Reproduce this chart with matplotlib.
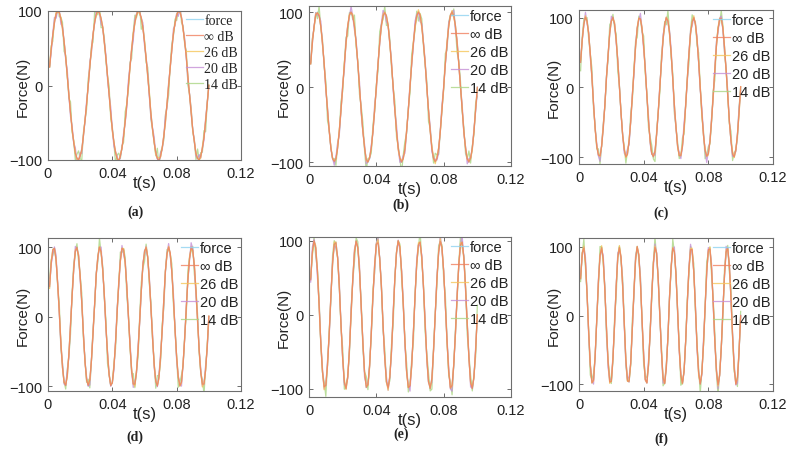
import numpy as np
import matplotlib
matplotlib.use("Agg")
import matplotlib.pyplot as plt

# ---------------- data ----------------
panel_labels = ["(a)", "(b)", "(c)", "(d)", "(e)", "(f)"]
frequencies = [40, 50, 60, 70, 80, 90]          # Hz, read from the periods
amplitude = 100                                   # N
sample_step = 0.001                               # s
n_samples = 100
series_names = ["force", "\u221e dB", "26 dB", "20 dB", "14 dB"]
ylims = [(-100, 100), (-105, 108), (-110, 111), (-107, 113), (-111, 105), (-110, 113)]
xticks = [0, 0.04, 0.08, 0.12]
xticklabels = ["0", "0.04", "0.08", "0.12"]
yticks = [-100, 0, 100]

# hand-estimated deviations of the reconstructed signals (N)
dev_inf = [0, 1, 0, -1, 1, 0, 0, -1, 1, 0,
           1, 0, -1, 0, 1, 0, -1, 1, 0, 0,
           -1, 0, 1, 0, 0, -1, 1, 0, 0, 1,
           0, -1, 0, 1, 0, 0, 1, -1, 0, 0,
           1, 0, 0, -1, 0, 1, 0, 0, -1, 1,
           0, 0, 1, 0, -1, 0, 1, 0, 0, -1,
           0, 1, 0, -1, 0, 0, 1, 0, -1, 0,
           1, 0, 0, 1, -1, 0, 0, 1, 0, -1,
           0, 0, 1, 0, -1, 1, 0, 0, -1, 0,
           1, -1, 0, 0, 1, 0, -1, 0, 1, 0]
dev_26 = [0, 2, -1, 1, 3, -2, 0, 1, -3, 2,
          1, -1, 2, 0, -2, 3, 1, -1, 0, 2,
          -3, 1, 2, -1, 0, 3, -2, 1, 1, -2,
          2, 0, -1, 3, -2, 1, 0, 2, -1, -3,
          1, 2, 0, -2, 3, -1, 1, 0, 2, -2,
          -1, 3, 1, -2, 0, 2, -3, 1, 0, 2,
          1, -2, 3, 0, -1, 2, -2, 1, 3, -1,
          0, 2, -3, 1, 2, -1, 0, 3, -2, 1,
          -1, 2, 0, -3, 1, 2, -1, 0, 3, -2,
          2, -1, 1, 0, -2, 3, -1, 2, 0, 1]
dev_20 = [1, -4, 2, 7, -5, 0, 4, -8, 2, 1,
          -2, 8, -1, -5, 4, 0, 7, -4, -1, 5,
          -7, 2, 0, 4, -2, 8, -5, 1, -1, 4,
          7, -2, -8, 2, 0, 5, -4, 1, 8, -1,
          -5, 2, 4, -7, 1, 0, 5, -2, -4, 7,
          2, -1, -8, 4, 1, 5, -2, 0, 7, -5,
          1, 4, -2, -7, 2, 8, -1, 0, -4, 5,
          -2, 1, 7, -5, 4, -1, 0, 8, -4, 2,
          -7, 5, 1, -2, 4, 0, -8, 2, 5, -1,
          4, -4, 0, 7, -2, 1, -5, 4, 2, -1]
dev_14 = [0, 5, -9, 4, -3, 12, -6, 1, 8, -13,
          4, 0, -5, 15, -4, 3, -10, 6, 12, -3,
          -16, 5, 1, -7, 9, -1, 4, -10, 15, 3,
          -5, 8, -13, 1, 6, -4, 0, 12, -8, 3,
          -1, -14, 5, 9, -3, 4, -8, 13, 0, -5,
          6, -12, 3, 10, -4, -1, 8, -15, 4, 1,
          -6, 12, 5, -9, 0, 3, -4, 14, -10, 6,
          1, -5, 9, -3, -13, 4, 8, -1, 5, -8,
          0, 15, -6, 3, -4, 10, -12, 1, 6, -3,
          4, -9, 13, -1, 5, -5, 8, -14, 3, 0]
deviations = [None, dev_inf, dev_26, dev_20, dev_14]

# ---------------- style ----------------
colors = ["#8fd3f0", "#f0805f", "#f5c65a", "#c58fd6", "#aad683"]
zorders = [1, 6, 5, 4, 3]          # orange (inf dB) ends up on top
line_alpha = 0.8

W, H = 792, 452
# axes boxes in pixels: left, top, right, bottom
boxes = [(48, 12, 241, 161), (309, 7, 511, 167), (579, 11, 773, 165),
         (48, 239, 241, 392), (309, 238, 511, 398), (579, 239, 773, 392)]
captions_xy = [(135, 212), (401, 205), (661, 213), (135, 437), (401, 434), (661, 439)]

sans = ["Liberation Sans", "DejaVu Sans"]
serif = ["Liberation Serif", "DejaVu Serif"]

fig = plt.figure(figsize=(W / 100, H / 100), dpi=100)
t = np.arange(1, n_samples + 1) * sample_step

for i, (l, tp, r, b) in enumerate(boxes):
    ax = fig.add_axes([l / W, 1 - b / H, (r - l) / W, (b - tp) / H])
    base = amplitude * np.sin(2 * np.pi * frequencies[i] * t)
    shift = 13 * i
    for k, name in enumerate(series_names):
        if deviations[k] is None:
            y = base
        else:
            y = base + np.roll(np.array(deviations[k], dtype=float), shift)
        ax.plot(t, y, color=colors[k], alpha=line_alpha, lw=0.9, label=name,
                zorder=zorders[k])
    ax.set_xlim(0, 0.12)
    ax.set_ylim(*ylims[i])
    ax.set_xticks(xticks)
    ax.set_xticklabels(xticklabels)
    ax.set_yticks(yticks)
    ax.tick_params(direction="in", length=3, width=0.6, top=True, right=True,
                   labelsize=10.5, colors="#555555", labelcolor="#222222", pad=4)
    for lab in ax.get_xticklabels() + ax.get_yticklabels():
        lab.set_family(sans)
    for s in ax.spines.values():
        s.set_color("#6e6e6e")
        s.set_linewidth(0.8)
        s.set_zorder(10)
    ax.set_xlabel("t(s)", fontsize=12, family=sans, color="#222222")
    ax.xaxis.label.set_va("center")
    ax.xaxis.set_label_coords(0.5, -22.5 / (b - tp))
    ax.set_ylabel("Force(N)", fontsize=11, family=sans, color="#222222")
    ax.yaxis.label.set_va("center")
    ax.yaxis.set_label_coords(-25 / (r - l), 0.5)
    if i == 0:
        leg_font = {"family": serif, "size": 10}
        spacing = 0.22
    else:
        leg_font = {"family": sans, "size": 10.5}
        spacing = 0.28
    leg = ax.legend(loc="upper right", frameon=False, prop=leg_font,
                    borderaxespad=0.1, borderpad=0.1, handlelength=1.2,
                    handletextpad=0.1, labelspacing=spacing)
    leg.set_zorder(20)
    for txt in leg.get_texts():
        txt.set_color("#222222")
    cx, cy = captions_xy[i]
    fig.text(cx / W, 1 - cy / H, panel_labels[i], ha="center", va="center",
             fontsize=10, fontweight="bold", family=serif, color="#222222")

fig.savefig("out.png", dpi=100)
